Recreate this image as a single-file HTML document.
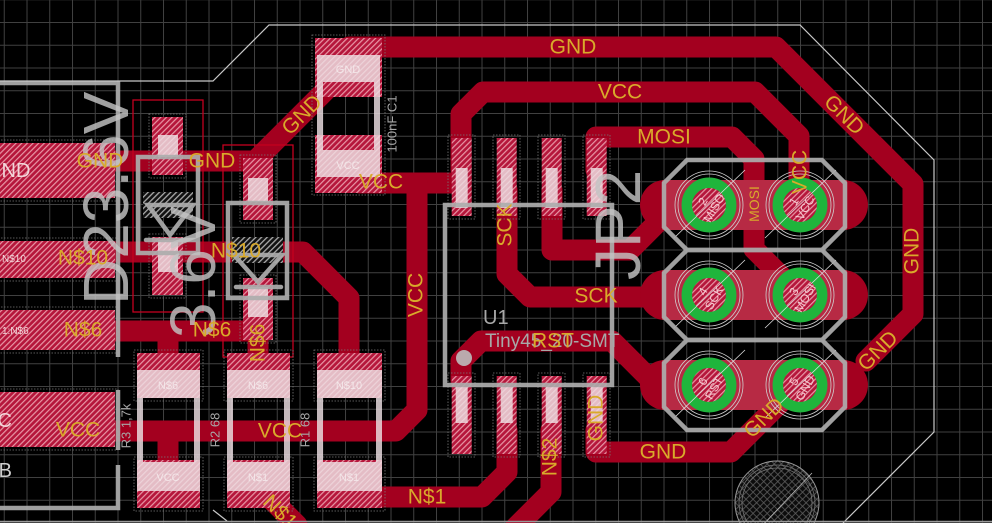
<!DOCTYPE html>
<html><head><meta charset="utf-8"><style>
html,body{margin:0;padding:0;background:#000;}
svg{display:block;}
text{font-family:"Liberation Sans",sans-serif;}
</style></head><body>
<svg width="992" height="523" viewBox="0 0 992 523" xmlns="http://www.w3.org/2000/svg">
<defs>
<pattern id="grid" width="22.75" height="22.75" patternUnits="userSpaceOnUse" x="3.75" y="-0.75">
<path d="M0.5 0 V22.75 M0 0.5 H22.75" stroke="#414141" stroke-width="1" fill="none"/>
</pattern>
<pattern id="h" width="4" height="4" patternUnits="userSpaceOnUse" patternTransform="rotate(45)">
<rect width="4" height="4" fill="#b5163b"/><rect width="1.2" height="4" fill="#e897a6"/>
</pattern>
<pattern id="hg" width="4" height="4" patternUnits="userSpaceOnUse" patternTransform="rotate(45)">
<rect width="4" height="4" fill="#111"/><rect width="1.3" height="4" fill="#aaa"/>
</pattern>
<pattern id="xh" width="5" height="5" patternUnits="userSpaceOnUse" patternTransform="rotate(45)">
<rect width="5" height="5" fill="#0c0c0c"/><path d="M0 0.5H5M0.5 0V5" stroke="#5e5e5e" stroke-width="0.8"/>
</pattern>
</defs>
<rect width="992" height="523" fill="#000"/>
<rect width="992" height="523" fill="url(#grid)"/>

<!-- traces -->
<g fill="none" stroke="#a3001f" stroke-width="21" stroke-linecap="round" stroke-linejoin="round">
<path d="M349 47 H776 L913 184 V314 L866 361"/>
<path d="M332 84 L255 161 H100"/>
<path d="M461 170 V114 L483 92 H755 L799 136 V205"/>
<path d="M360 183 H455"/>
<path d="M417 183 V410 L396 431 H60"/>
<path d="M596 170 V137 H732 L754 159 V249 L800 295"/>
<path d="M507 190 V274 L530 297 H709"/>
<path d="M552 190 V250 H630 L675 205 H709"/>
<path d="M461 380 V361 L481 341 H612 L656 385 H709"/>
<path d="M596 430 V452 H731 L800 383"/>
<path d="M551 430 V492 L515 528"/>
<path d="M507 430 V472 L482 497 H349"/>
<path d="M60 252 H303 L349 298 V370"/>
<path d="M60 331 H258"/>
<path d="M258 300 V370"/>
<path d="M168 331 V370"/>
<path d="M168 431 V470"/>
<path d="M257 485 L297 525"/>
</g>

<!-- thin red outlines (diodes) -->
<g fill="none" stroke="#c4001f" stroke-width="1.3">
<rect x="133" y="100" width="70" height="212"/>
<rect x="223" y="145" width="70" height="212"/>
</g>

<!-- SMD pads -->
<g fill="url(#h)">
<rect x="-5" y="143" width="120" height="55"/>
<rect x="-5" y="241" width="120" height="37"/>
<rect x="-5" y="310" width="120" height="40"/>
<rect x="-5" y="392" width="120" height="55"/>
<rect x="315" y="38" width="67" height="59"/>
<rect x="315" y="135" width="67" height="58"/>
<rect x="451.7" y="138" width="20" height="78"/>
<rect x="496.7" y="138" width="20" height="78"/>
<rect x="541.7" y="138" width="20" height="78"/>
<rect x="586.7" y="138" width="20" height="78"/>
<rect x="451.7" y="376" width="20" height="78"/>
<rect x="496.7" y="376" width="20" height="78"/>
<rect x="541.7" y="376" width="20" height="78"/>
<rect x="586.7" y="376" width="20" height="78"/>
<rect x="152" y="117" width="31" height="58"/>
<rect x="152" y="237" width="31" height="58"/>
<rect x="243" y="158" width="30" height="62"/>
<rect x="243" y="278" width="30" height="62"/>
<rect x="137" y="353" width="63" height="45"/>
<rect x="137" y="460" width="63" height="48"/>
<rect x="227" y="353" width="63" height="45"/>
<rect x="227" y="460" width="63" height="48"/>
<rect x="317" y="353" width="65" height="45"/>
<rect x="317" y="460" width="65" height="48"/>
</g>
<g fill="none" stroke="#777" stroke-width="0.8" stroke-dasharray="1.5 1.5">
<rect x="448" y="135" width="27" height="84"/><rect x="493" y="135" width="27" height="84"/>
<rect x="538" y="135" width="27" height="84"/><rect x="583" y="135" width="27" height="84"/>
<rect x="448" y="373" width="27" height="84"/><rect x="493" y="373" width="27" height="84"/>
<rect x="538" y="373" width="27" height="84"/><rect x="583" y="373" width="27" height="84"/>
<rect x="312" y="35" width="73" height="160"/>
<rect x="134" y="350" width="69" height="51"/><rect x="134" y="457" width="69" height="54"/>
<rect x="224" y="350" width="69" height="51"/><rect x="224" y="457" width="69" height="54"/>
<rect x="314" y="350" width="71" height="51"/><rect x="314" y="457" width="71" height="54"/>
<rect x="149" y="114" width="37" height="64"/><rect x="149" y="234" width="37" height="64"/>
<rect x="240" y="155" width="36" height="68"/><rect x="240" y="275" width="36" height="68"/>
<rect x="-5" y="140" width="123" height="61"/><rect x="-5" y="238" width="123" height="43"/>
<rect x="-5" y="307" width="123" height="46"/><rect x="-5" y="389" width="123" height="61"/>
</g>

<!-- connector ovals -->
<g>
<rect x="640" y="180" width="228" height="50" rx="25" fill="#a3001f"/>
<rect x="640" y="270" width="228" height="50" rx="25" fill="#a3001f"/>
<rect x="640" y="360" width="228" height="50" rx="25" fill="#a3001f"/>
<rect x="662" y="180" width="185" height="50" fill="rgba(255,190,200,0.22)"/>
<rect x="662" y="270" width="185" height="50" fill="rgba(255,190,200,0.22)"/>
<rect x="662" y="360" width="185" height="50" fill="rgba(255,190,200,0.22)"/>
</g>
<g>
<g fill="none" stroke="#cfcfcf" stroke-width="0.8">
<circle cx="709" cy="205" r="31"/><circle cx="709" cy="205" r="34"/>
<circle cx="800" cy="205" r="31"/><circle cx="800" cy="205" r="34"/>
<circle cx="709" cy="295" r="31"/><circle cx="709" cy="295" r="34"/>
<circle cx="800" cy="295" r="31"/><circle cx="800" cy="295" r="34"/>
<circle cx="709" cy="385" r="31"/><circle cx="709" cy="385" r="34"/>
<circle cx="800" cy="385" r="31"/><circle cx="800" cy="385" r="34"/>
</g>
<g fill="url(#h)" stroke="#1fb53c" stroke-width="10.5">
<circle cx="709" cy="205" r="22.2"/><circle cx="800" cy="205" r="22.2"/>
<circle cx="709" cy="295" r="22.2"/><circle cx="800" cy="295" r="22.2"/>
<circle cx="709" cy="385" r="22.2"/><circle cx="800" cy="385" r="22.2"/>
</g>
<g stroke="#dddddd" stroke-width="0.8">
<line x1="674" y1="238" x2="745" y2="170"/><line x1="765" y1="238" x2="836" y2="170"/>
<line x1="674" y1="328" x2="745" y2="260"/><line x1="765" y1="328" x2="836" y2="260"/>
<line x1="674" y1="418" x2="745" y2="350"/><line x1="765" y1="418" x2="836" y2="350"/>
</g>
<g font-size="12" fill="#f5c8d0" text-anchor="middle">
<text transform="translate(709,205) rotate(-60)"><tspan x="0" y="-3">2</tspan><tspan x="0" y="10">MISO</tspan></text>
<text transform="translate(800,205) rotate(-60)"><tspan x="0" y="-3">1</tspan><tspan x="0" y="10">VCC</tspan></text>
<text transform="translate(709,295) rotate(-60)"><tspan x="0" y="-3">4</tspan><tspan x="0" y="10">SCK</tspan></text>
<text transform="translate(800,295) rotate(-60)"><tspan x="0" y="-3">3</tspan><tspan x="0" y="10">MOSI</tspan></text>
<text transform="translate(709,385) rotate(-60)"><tspan x="0" y="-3">6</tspan><tspan x="0" y="10">RST</tspan></text>
<text transform="translate(800,385) rotate(-60)"><tspan x="0" y="-3">5</tspan><tspan x="0" y="10">GND</tspan></text>
</g>
</g>

<!-- hole -->
<circle cx="777" cy="503" r="42" fill="url(#xh)" stroke="#999" stroke-width="1"/>
<circle cx="777" cy="503" r="38" fill="none" stroke="#777" stroke-width="0.8"/>
<circle cx="777" cy="503" r="35" fill="none" stroke="#777" stroke-width="0.8"/>
<line x1="760" y1="528" x2="812" y2="473" stroke="#bbb" stroke-width="0.8"/>

<!-- light silkscreen fills -->
<g fill="rgba(238,225,228,0.82)">
<rect x="317" y="55" width="63" height="27"/><rect x="317" y="150" width="63" height="27"/>
<rect x="317" y="82" width="6" height="68"/><rect x="374" y="82" width="6" height="68"/>
<rect x="137" y="370" width="63" height="28"/><rect x="137" y="462" width="63" height="29"/>
<rect x="137" y="398" width="6" height="64"/><rect x="194" y="398" width="6" height="64"/>
<rect x="227" y="370" width="63" height="28"/><rect x="227" y="462" width="63" height="29"/>
<rect x="227" y="398" width="6" height="64"/><rect x="284" y="398" width="6" height="64"/>
<rect x="317" y="370" width="65" height="28"/><rect x="317" y="462" width="65" height="29"/>
<rect x="317" y="398" width="6" height="64"/><rect x="376" y="398" width="6" height="64"/>
<rect x="455.7" y="168" width="12" height="40"/><rect x="500.7" y="168" width="12" height="40"/>
<rect x="545.7" y="168" width="12" height="40"/><rect x="590.7" y="168" width="12" height="40"/>
<rect x="455.7" y="387" width="12" height="36"/><rect x="500.7" y="387" width="12" height="36"/>
<rect x="545.7" y="387" width="12" height="36"/><rect x="590.7" y="387" width="12" height="36"/>
<rect x="158" y="135" width="20" height="22"/><rect x="158" y="240" width="20" height="32"/>
<rect x="248" y="178" width="20" height="24"/><rect x="248" y="287" width="20" height="30"/>
</g>
<g font-size="11" fill="#f7f0f1" text-anchor="middle" opacity="0.8">
<text x="348" y="73">GND</text><text x="348" y="169">VCC</text>
<text x="168" y="389">N$6</text><text x="168" y="481">VCC</text>
<text x="258" y="389">N$6</text><text x="258" y="481">N$1</text>
<text x="349" y="389">N$10</text><text x="349" y="481">N$1</text>
</g>

<!-- cathode bands -->
<rect x="143" y="192" width="50" height="26" fill="url(#hg)"/>
<rect x="232" y="237" width="51" height="26" fill="url(#hg)"/>

<!-- gray silkscreen lines -->
<g fill="none" stroke="#adadad" stroke-width="4.5" opacity="0.92" stroke-linejoin="miter">
<path d="M0 83 H118 V357 M118 390 V450 M118 465 V508 H0"/>
<rect x="445" y="205" width="167" height="180"/>
<rect x="138" y="157" width="60" height="96"/>
<rect x="228" y="203" width="59" height="95"/>
<path d="M148 205 L193 205 L170 235 Z M146 240 H196" stroke-linecap="round"/>
<path d="M234 255 L282 255 L258 282 Z M236 287 H281" stroke-linecap="round"/>
<path d="M687 160 H822 L845 183 V227 L822 250 H687 L664 227 V183 Z"/>
<path d="M687 250 H822 L845 273 V317 L822 340 H687 L664 317 V273 Z"/>
<path d="M687 340 H822 L845 363 V407 L822 430 H687 L664 407 V363 Z"/>
</g>
<circle cx="464" cy="358" r="8" fill="#bdbdbd" opacity="0.9"/>

<!-- big silkscreen texts -->
<g fill="rgba(195,195,195,0.82)" font-size="64">
<text transform="translate(128,305) rotate(-90)">D23.6V</text>
<text transform="translate(215,338) rotate(-90)">3.6V</text>
<text transform="translate(640,280) rotate(-90)">JP2</text>
</g>
<g fill="#a8a8a8">
<text x="483" y="324" font-size="20">U1</text>
<text x="485" y="347" font-size="19">Tiny45_20-SMT</text>
<text transform="translate(392,124) rotate(-90)" font-size="13" text-anchor="middle" dominant-baseline="central">100nF C1</text>
<text transform="translate(126,426) rotate(-90)" font-size="13" text-anchor="middle" dominant-baseline="central">R3 1,7k</text>
<text transform="translate(215,430) rotate(-90)" font-size="13" text-anchor="middle" dominant-baseline="central">R2 68</text>
<text transform="translate(305,430) rotate(-90)" font-size="13" text-anchor="middle" dominant-baseline="central">R1 68</text>
</g>
<g fill="#f2d6da">
<text x="-14" y="177" font-size="20">GND</text>
<text x="12" y="427" font-size="20" text-anchor="end">VCC</text>
<text x="2" y="262" font-size="10">N$10</text>
<text x="2" y="334" font-size="10">1:N$6</text>
</g>
<text x="12" y="477" font-size="20" text-anchor="end" fill="#cfcfcf">USB</text>

<!-- yellow net labels -->
<g fill="#d9aa2b" font-size="21" text-anchor="middle" dominant-baseline="central">
<text x="573" y="47">GND</text>
<text transform="translate(844,115) rotate(45)">GND</text>
<text transform="translate(912,251) rotate(-90)">GND</text>
<text transform="translate(878,351) rotate(-45)">GND</text>
<text transform="translate(764,418) rotate(-45)">GND</text>
<text x="663" y="452">GND</text>
<text transform="translate(596,418) rotate(-90)">GND</text>
<text transform="translate(302,115) rotate(-45)">GND</text>
<text x="212" y="161">GND</text>
<text x="100" y="161">GND</text>
<text x="620" y="92">VCC</text>
<text transform="translate(800,172) rotate(-90)">VCC</text>
<text x="381" y="182">VCC</text>
<text transform="translate(416,295) rotate(-90)">VCC</text>
<text x="280" y="431">VCC</text>
<text x="78" y="430">VCC</text>
<text x="664" y="137">MOSI</text>
<text transform="translate(754,204) rotate(-90)" font-size="14">MOSI</text>
<text transform="translate(505,225) rotate(-90)">SCK</text>
<text x="596" y="296">SCK</text>
<text x="553" y="341">RST</text>
<text x="236" y="251">N$10</text>
<text x="83" y="258">N$10</text>
<text x="212" y="330">N$6</text>
<text x="83" y="330">N$6</text>
<text transform="translate(258,343) rotate(-90)">N$6</text>
<text x="427" y="497">N$1</text>
<text transform="translate(550,457) rotate(-90)">N$2</text>
<text transform="translate(280,512) rotate(45)">N$1</text>
</g>

<!-- board outline -->
<g fill="none" stroke="#c8c8c8" stroke-width="1.2">
<path d="M0 81 H213 L269 25 H800 L934 160 V432 L843 523"/>
<path d="M213 510 L227 521"/>
</g>
<line x1="0" y1="521.5" x2="992" y2="521.5" stroke="#9a9a9a" stroke-width="1.5"/>
</svg>
</body></html>
